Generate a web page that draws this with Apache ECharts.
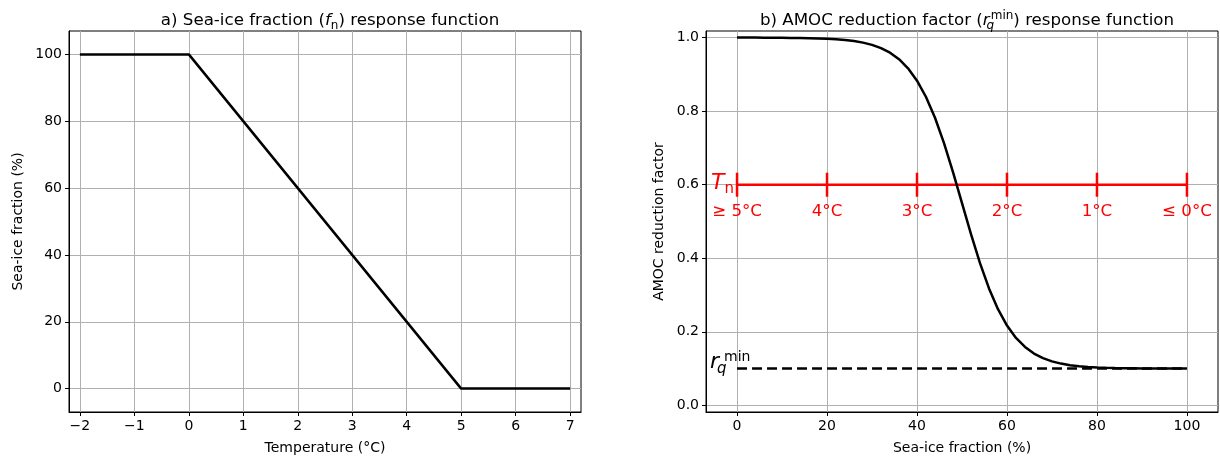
<!DOCTYPE html>
<html lang="en">
<head>
<meta charset="utf-8">
<title>Sea-ice and AMOC response functions</title>
<script src="https://cdn.jsdelivr.net/npm/echarts@6/dist/echarts.min.js"></script>
<style>
html, body { margin: 0; padding: 0; background: #fff; }
#chart { width: 1220px; height: 457px; }
</style>
</head>
<body>
<div id="chart"></div>
<script>
// a) sea-ice fraction vs temperature
var tempPts = [-2, 0, 5, 7];
var fracPts = [100, 100, 0, 0];
var tempTicks = [-2, -1, 0, 1, 2, 3, 4, 5, 6, 7];
var fracTicks = [0, 20, 40, 60, 80, 100];

// b) AMOC reduction factor vs sea-ice fraction (read off the curve)
var iceFrac = [0, 2, 4, 6, 8, 10, 12, 14, 16, 18, 20, 22, 24, 26, 28, 30, 32, 34, 36, 38,
    40, 42, 44, 46, 48, 50, 52, 54, 56, 58, 60, 62, 64, 66, 68, 70, 72, 74, 76, 78,
    80, 82, 84, 86, 88, 90, 92, 94, 96, 98, 100];
var amocFactor = [1.000, 1.000, 1.000, 0.9998, 0.9997, 0.9996, 0.9993, 0.999, 0.9986, 0.9979,
    0.997, 0.9956, 0.9936, 0.9907, 0.9864, 0.9803, 0.9715, 0.959, 0.9412, 0.9165,
    0.8829, 0.8385, 0.782, 0.7132, 0.6345, 0.55, 0.4655, 0.3868, 0.318, 0.2615,
    0.2171, 0.1835, 0.159, 0.141, 0.1285, 0.1197, 0.1136, 0.1093, 0.1064, 0.1044,
    0.103, 0.1021, 0.1014, 0.101, 0.1007, 0.1004, 0.1003, 0.1002, 0.1002, 0.1001, 0.1001];
var iceTicks = [0, 20, 40, 60, 80, 100];
var factorTicks = [0, 0.2, 0.4, 0.6, 0.8, 1.0];
var tnLabels = ['≥ 5°C', '4°C', '3°C', '2°C', '1°C', '≤ 0°C'];
var tnLevel = 0.6;
var rqMin = 0.1;

var FONT = '"DejaVu Sans", sans-serif';
var RED = '#ff0000';

function zip(xs, ys) {
    return xs.map(function (x, i) { return [x, ys[i]]; });
}

function minusFmt(v) {
    return v < 0 ? '\u2212' + (-v) : String(v);
}

function baseAxis(ticks, fmt) {
    return {
        type: 'value',
        axisLine: { show: true, onZero: false, lineStyle: { color: '#000', width: 1 } },
        axisTick: { show: true, inside: false, length: 4, customValues: ticks, lineStyle: { color: '#000', width: 1 } },
        axisLabel: { customValues: ticks, formatter: fmt, color: '#000', fontSize: 14, fontFamily: FONT, margin: 7 },
        splitLine: { show: true, lineStyle: { color: '#b0b0b0', width: 1 } },
        nameLocation: 'middle',
        nameTextStyle: { color: '#000', fontSize: 14, fontFamily: FONT }
    };
}

var titleRich = {
    i: { fontStyle: 'italic', fontSize: 16.67, fontFamily: FONT, color: '#000', lineHeight: 22 },
    sub: { fontSize: 12, fontFamily: FONT, color: '#000', lineHeight: 12, verticalAlign: 'bottom' },
    subq: { fontSize: 12, fontStyle: 'italic', fontFamily: FONT, color: '#000', lineHeight: 12, verticalAlign: 'bottom', width: 1 },
    sup: { fontSize: 12, fontFamily: FONT, color: '#000', lineHeight: 12, verticalAlign: 'top' }
};

var xA = baseAxis(tempTicks, minusFmt);
xA.gridIndex = 0; xA.min = -2.2; xA.max = 7.2;
xA.name = 'Temperature (°C)'; xA.nameGap = 29;

var yA = baseAxis(fracTicks, function (v) { return String(v); });
yA.gridIndex = 0; yA.min = -7; yA.max = 107;
yA.name = 'Sea-ice fraction (%)'; yA.nameGap = 44;

var xB = baseAxis(iceTicks, function (v) { return String(v); });
xB.gridIndex = 1; xB.min = -6.9; xB.max = 106.9;
xB.name = 'Sea-ice fraction (%)'; xB.nameGap = 29;

var yB = baseAxis(factorTicks, function (v) { return v.toFixed(1); });
yB.gridIndex = 1; yB.min = -0.018; yB.max = 1.018;
yB.name = 'AMOC reduction factor'; yB.nameGap = 40;

var option = {
    animation: false,
    backgroundColor: '#fff',
    textStyle: { fontFamily: FONT },
    title: [{
        text: 'a) Sea-ice fraction ({i|f}{sub|n}) response function',
        left: 325, top: 5, textAlign: 'center',
        textStyle: { fontSize: 16.67, fontWeight: 'normal', color: '#000', fontFamily: FONT, lineHeight: 22, rich: titleRich }
    }, {
        text: 'b) AMOC reduction factor ({i|r}{subq|q}{sup|min}) response function',
        left: 962, top: 5, textAlign: 'center',
        textStyle: { fontSize: 16.67, fontWeight: 'normal', color: '#000', fontFamily: FONT, lineHeight: 22, rich: titleRich }
    }],
    grid: [
        { left: 69, top: 31, width: 512, height: 381, show: true, borderColor: '#000', borderWidth: 1, backgroundColor: 'transparent', outerBoundsMode: 'none' },
        { left: 706, top: 31, width: 512, height: 381, show: true, borderColor: '#000', borderWidth: 1, backgroundColor: 'transparent', outerBoundsMode: 'none' }
    ],
    xAxis: [xA, xB],
    yAxis: [yA, yB],
    series: [
        {
            type: 'line', xAxisIndex: 0, yAxisIndex: 0,
            data: zip(tempPts, fracPts),
            showSymbol: false, silent: true,
            lineStyle: { color: '#000', width: 2.5 }
        },
        // red temperature scale
        {
            type: 'line', xAxisIndex: 1, yAxisIndex: 1,
            data: [[iceTicks[0], tnLevel], [iceTicks[iceTicks.length - 1], tnLevel]],
            showSymbol: false, silent: true, z: 2,
            lineStyle: { color: RED, width: 2.5 }
        },
        {
            type: 'custom', xAxisIndex: 1, yAxisIndex: 1, silent: true, z: 2,
            data: iceTicks.map(function (x, i) { return [x, tnLevel, i]; }),
            renderItem: function (params, api) {
                var p = api.coord([api.value(0), api.value(1)]);
                var idx = api.value(2);
                return {
                    type: 'group',
                    children: [{
                        type: 'line',
                        shape: { x1: p[0], y1: p[1] - 12, x2: p[0], y2: p[1] + 12 },
                        style: { stroke: RED, lineWidth: 2.5 }
                    }, {
                        type: 'text', x: p[0], y: p[1] + 27,
                        style: { text: tnLabels[idx], fill: RED, fontSize: 16.67, fontFamily: FONT, align: 'center', verticalAlign: 'middle' }
                    }]
                };
            }
        },
        {
            type: 'custom', xAxisIndex: 1, yAxisIndex: 1, silent: true, z: 2,
            data: [[iceTicks[0], tnLevel]],
            renderItem: function (params, api) {
                var p = api.coord([api.value(0), api.value(1)]);
                return {
                    type: 'group',
                    children: [{
                        type: 'text', x: p[0] - 26, y: p[1] - 1,
                        style: { text: 'T', fill: RED, fontSize: 22, fontStyle: 'italic', fontFamily: FONT, align: 'left', verticalAlign: 'middle' }
                    }, {
                        type: 'text', x: p[0] - 12.5, y: p[1] + 4,
                        style: { text: 'n', fill: RED, fontSize: 15, fontFamily: FONT, align: 'left', verticalAlign: 'middle' }
                    }]
                };
            }
        },
        // reduction factor curve
        {
            type: 'line', xAxisIndex: 1, yAxisIndex: 1,
            data: zip(iceFrac, amocFactor),
            showSymbol: false, silent: true, smooth: false, z: 3,
            lineStyle: { color: '#000', width: 2.5 }
        },
        {
            type: 'line', xAxisIndex: 1, yAxisIndex: 1,
            data: [[iceFrac[0], rqMin], [iceFrac[iceFrac.length - 1], rqMin]],
            showSymbol: false, silent: true, z: 3,
            lineStyle: { color: '#000', width: 2.5, type: [10, 5] }
        },
        {
            type: 'custom', xAxisIndex: 1, yAxisIndex: 1, silent: true, z: 3,
            data: [[iceFrac[0], rqMin]],
            renderItem: function (params, api) {
                var p = api.coord([api.value(0), api.value(1)]);
                return {
                    type: 'group',
                    children: [{
                        type: 'text', x: p[0] - 27, y: p[1] - 6,
                        style: { text: 'r', fill: '#000', fontSize: 22, fontStyle: 'italic', fontFamily: FONT, align: 'left', verticalAlign: 'middle' }
                    }, {
                        type: 'text', x: p[0] - 20, y: p[1] + 0.5,
                        style: { text: 'q', fill: '#000', fontSize: 15, fontStyle: 'italic', fontFamily: FONT, align: 'left', verticalAlign: 'middle' }
                    }, {
                        type: 'text', x: p[0] - 13, y: p[1] - 11.5,
                        style: { text: 'min', fill: '#000', fontSize: 14, fontFamily: FONT, align: 'left', verticalAlign: 'middle' }
                    }]
                };
            }
        }
    ]
};

var chart = echarts.init(document.getElementById('chart'), null, { renderer: 'canvas' });
chart.setOption(option);
</script>
</body>
</html>
